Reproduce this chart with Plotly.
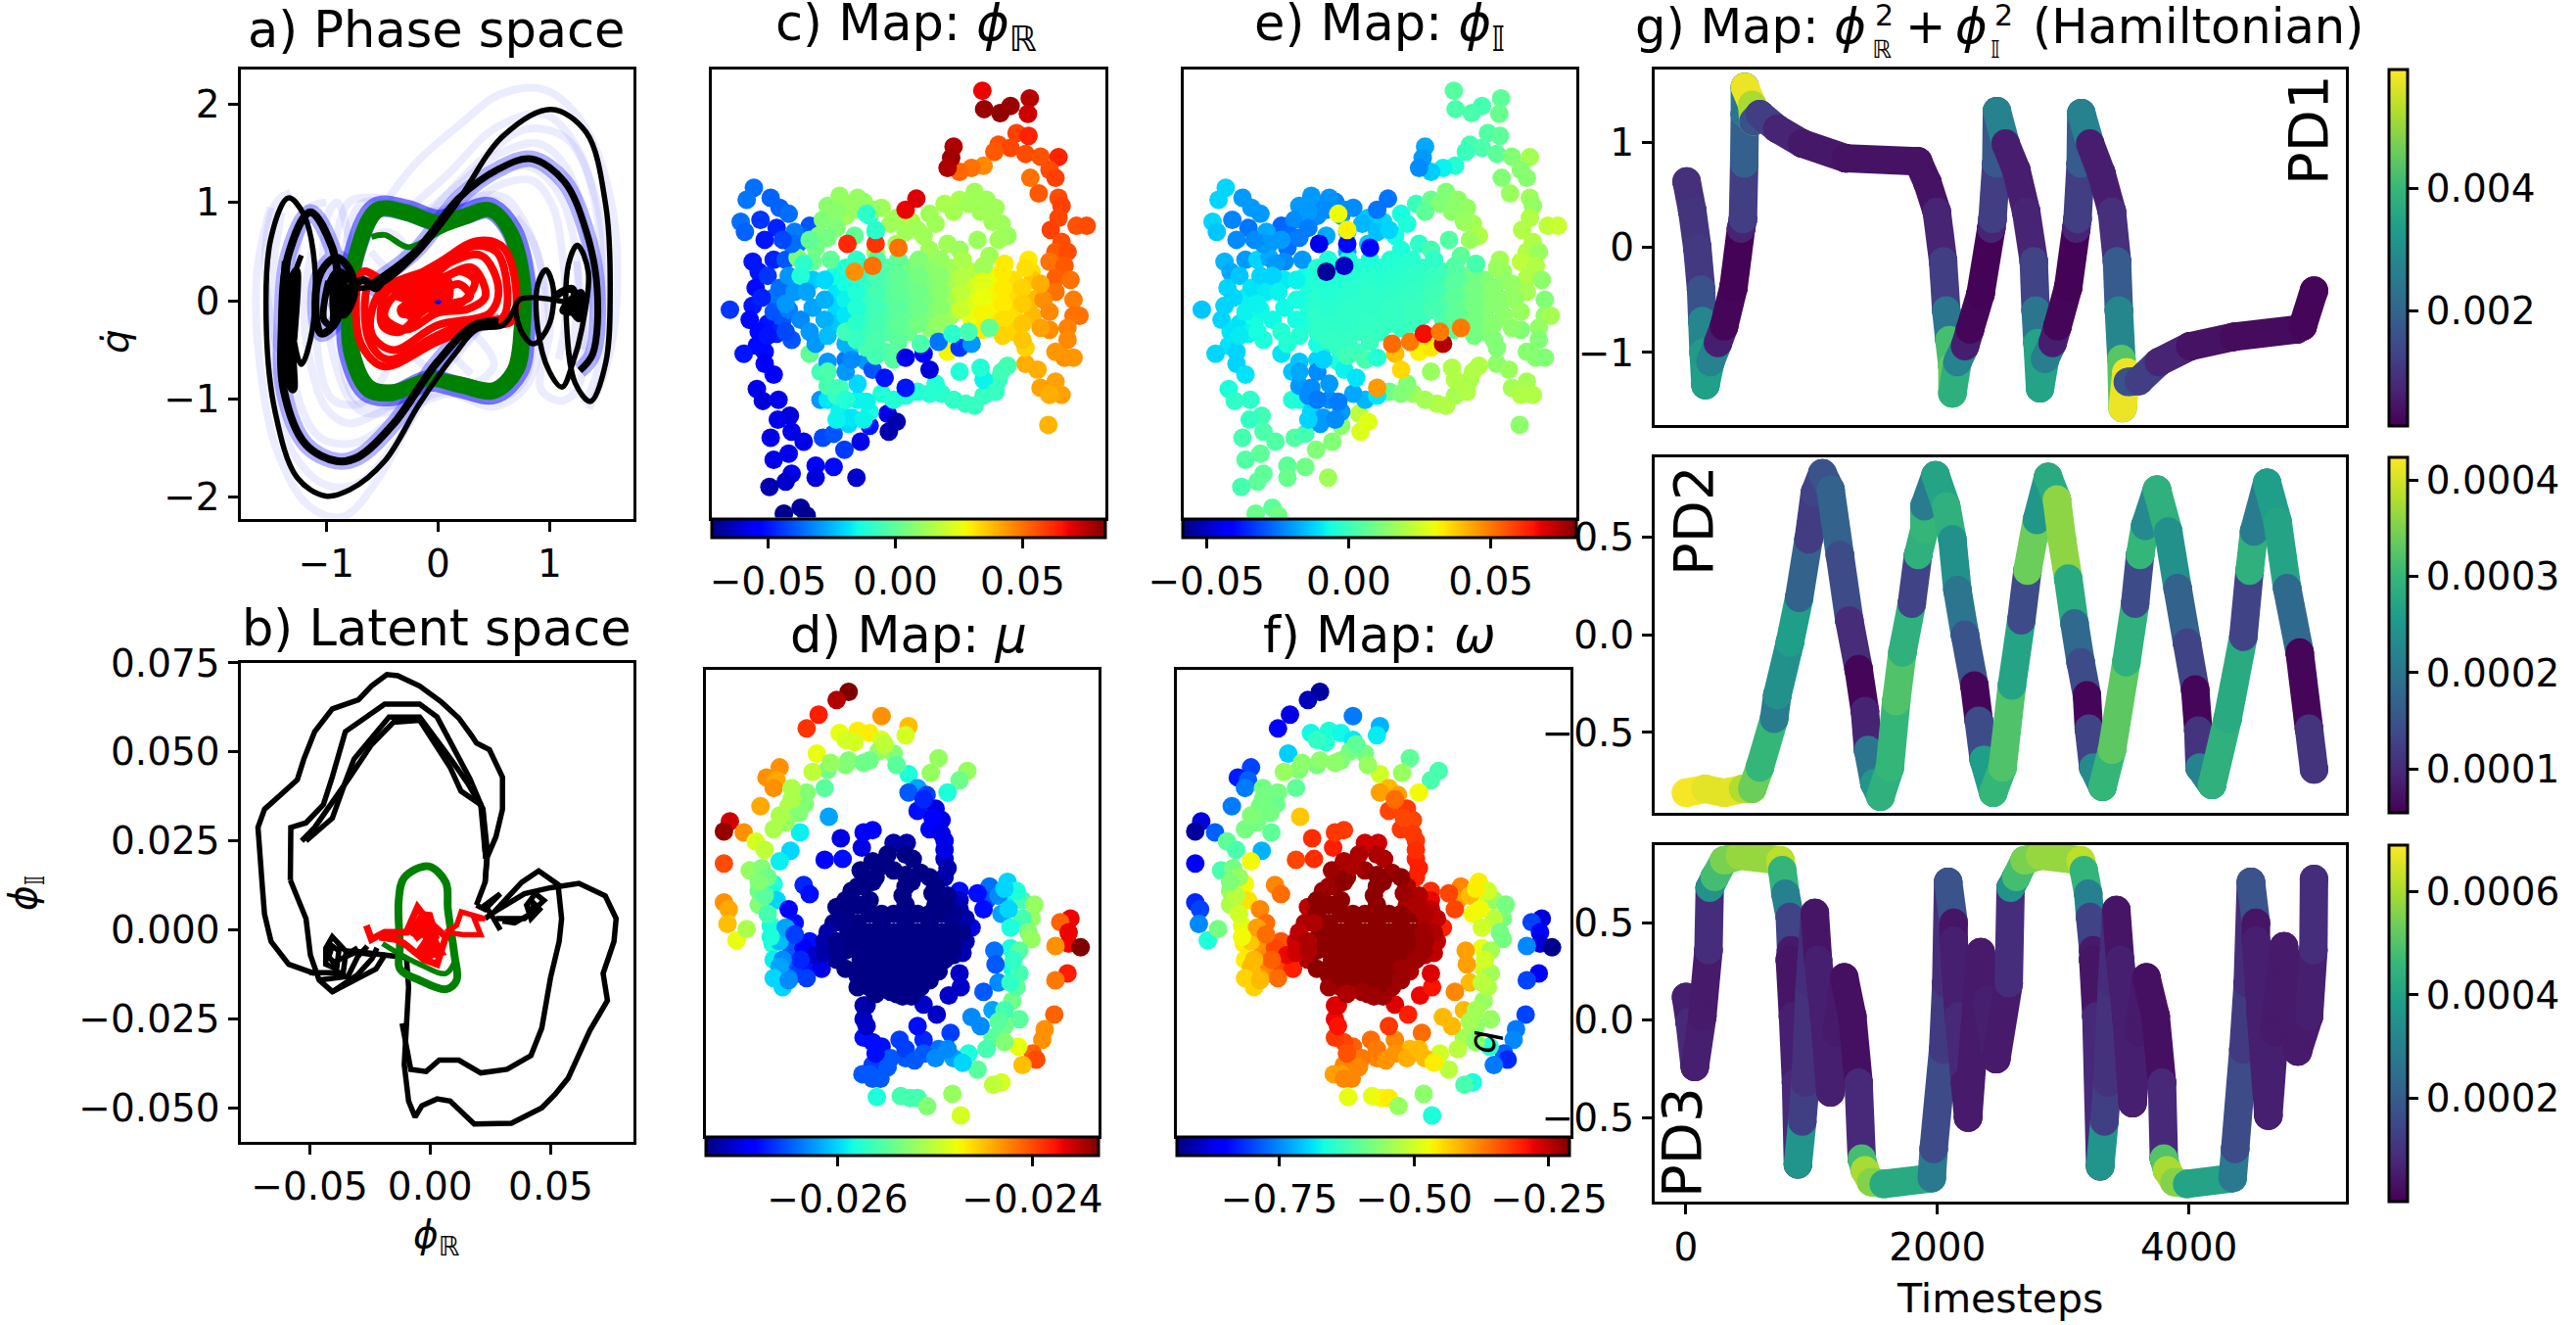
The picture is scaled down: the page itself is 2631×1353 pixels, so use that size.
import plotly.graph_objects as go
from plotly.colors import sample_colorscale

W, H = 2631, 1353
FONT = "DejaVu Sans"
FS = 39
TITLE_FS = 51

JET = [[0, "rgb(0,0,127)"], [.11, "rgb(0,0,255)"], [.125, "rgb(0,0,255)"], [.34, "rgb(0,219,255)"],
       [.35, "rgb(0,230,247)"], [.375, "rgb(20,255,226)"], [.64, "rgb(238,255,8)"], [.65, "rgb(247,245,0)"],
       [.66, "rgb(255,236,0)"], [.89, "rgb(255,19,0)"], [.91, "rgb(232,0,0)"], [1, "rgb(127,0,0)"]]

# ---------------- a) phase space -------------------
green_orbit = [(-.557,.942),(-.282,.921),(-.008,.817),(.227,.88),(.463,.942),(.659,.712),(.776,.209),(.776,-.293),
               (.718,-.712),(.502,-.942),(.188,-.88),(-.086,-.817),(-.4,-.963),(-.635,-.921),(-.792,-.545),(-.812,-.084),
               (-.753,.461),(-.557,.942)]
green_orbit2 = [(-.52,.9),(-.28,.86),(-.008,.76),(.23,.82),(.46,.9),(.62,.7),(.72,.2),(.72,-.3),(.66,-.7),(.5,-.88),
                (.19,-.82),(-.08,-.78),(-.4,-.9),(-.6,-.86),(-.74,-.53),(-.76,-.08),(-.71,.44),(-.52,.9)]
green_arm = [(-.596,.649),(-.478,.67),(-.263,.545),(.031,.712),(.227,.796)]
red_loop1 = [(-.675,.293),(-.4,.168),(-.008,.377),(.345,.607),(.58,.545),(.698,.126),(.659,-.209),(.384,-.251),
             (-.008,-.419),(-.486,-.67),(-.682,-.461),(-.733,-.168),(-.675,.293)]
red_loop2 = [(-.518,.084),(-.008,.335),(.384,.461),(.541,.126),(.463,-.126),(-.008,-.251),(-.4,-.503),(-.596,-.335),(-.518,.084)]
red_loop3 = [(-.4,.042),(-.008,.209),(.306,.335),(.424,.042),(.267,-.084),(-.008,-.126),(-.282,-.293),(-.478,-.168),(-.4,.042)]
red_loop4 = [(-.282,0),(-.008,.084),(.188,.168),(.286,.042),(.149,-.021),(-.047,-.042),(-.243,-.168),(-.282,0)]
red_loop5 = [(-.6,.2),(-.3,.14),(0,.3),(.3,.55),(.52,.5),(.62,.12),(.58,-.17),(.33,-.2),(-.02,-.36),(-.45,-.6),(-.62,-.4),(-.6,.2)]
red_loop6 = [(-.45,.1),(-.1,.16),(.1,.26),(.2,.3),(.33,.2),(.2,-.03),(-.1,-.08),(-.35,-.32),(-.5,-.25),(-.45,.1)]
red_fill = [(-.35,.08),(-.1,.14),(.05,.2),(.05,.0),(-.15,-.05),(-.3,-.1),(-.15,.02),(-.35,.08)]
black_a = [(-.714,.126),(-.518,.168),(-.204,.461),(.149,.963),(.58,1.675),(1.012,1.948),(1.325,1.717),(1.502,.963),(1.541,.126),
           (1.502,-.628),(1.365,-1.026),(1.227,-.838),(1.149,-.209),(1.169,.377),(1.247,.565),(1.345,.293),(1.286,-.293),
           (1.208,-.628),(1.11,-.88),(.992,-.712),(.894,-.293),(.894,.168),(.965,.314),(1.031,.126),(.992,-.251),(.855,-.44),
           (.737,-.293),(.718,0),(1.169,-.021)]
black_b = [(-.596,.168),(-.204,.503),(.188,1.047),(.541,1.34),(.835,1.445),(1.129,1.215),(1.325,.712),(1.424,.126),(1.384,-.545),(1.267,-.712)]
black_c = [(.698,-.042),(.58,-.251),(.345,-.293),(.149,-.545),(-.165,-1.047),(-.478,-1.634),(-.792,-1.927),(-1.008,-1.99),
           (-1.263,-1.801),(-1.459,-1.131),(-1.537,-.293),(-1.498,.628),(-1.341,1.047),(-1.204,.88),(-1.106,.377),(-1.125,-.293),
           (-1.224,-.649),(-1.302,-.293),(-1.294,.209),(-1.224,.461)]
black_d = [(.541,-.209),(.325,-.251),(-.008,-.628),(-.4,-1.257),(-.714,-1.592),(-.91,-1.634),(-1.184,-1.466),(-1.38,-.921),
           (-1.4,-.293),(-1.341,.461),(-1.145,.901),(-.949,.545),(-.89,.126),(-.91,-.209),(-1.047,-.335),(-1.098,-.042),
           (-1.047,.293),(-.91,.44),(-.773,.272),(-.792,0),(-.831,-.063),(-.91,-.042),(-.675,.209),(-.557,.126),(-.478,.251)]
black_patch_l = [(-1.36,.4),(-1.38,-.6),(-1.3,-.9),(-1.33,.1),(-1.27,.3),(-1.3,-.4)]
black_patch_l2 = [(-.98,.2),(-1.02,-.2),(-.95,-.25),(-.93,.2),(-.85,.25),(-.85,-.15),(-.78,-.05),(-.75,.15),(-.9,.3),(-1.0,.1)]
black_patch_r = [(1.05,.05),(1.2,.12),(1.22,-.1),(1.12,-.1),(1.28,.08),(1.26,-.18),(1.15,.02)]
haze_curves = [
 [(-.44,1.05),(-.2,1.4),(.2,1.8),(.55,2.1),(.95,2.15),(1.3,1.8),(1.55,1),(1.6,0),(1.5,-.7),(1.35,-1.1)],
 [(-.3,.9),(.1,1.3),(.5,1.75),(.95,1.9),(1.25,1.55),(1.42,.9),(1.46,.1),(1.38,-.6)],
 [(-.2,.8),(.2,1.2),(.55,1.5),(.9,1.6),(1.15,1.35),(1.3,.8),(1.35,.1),(1.3,-.5)],
 [(-.1,.8),(.25,1.1),(.6,1.35),(.85,1.35),(1.08,1.1),(1.22,.6),(1.25,0),(1.18,-.6)],
 [(0,.75),(.3,1.0),(.6,1.2),(.85,1.22),(1.03,.95),(1.12,.4),(1.14,-.2),(1.08,-.6)],
 [(-.1,.85),(.4,1.45),(.8,1.75),(1.15,1.65),(1.4,1.1),(1.5,.2),(1.42,-.75),(1.3,-1.05)],
 [(.45,-.2),(.1,-.6),(-.2,-1.1),(-.5,-1.75),(-.85,-2.2),(-1.15,-2.1),(-1.45,-1.5),(-1.6,-.6),(-1.62,.3),(-1.5,.95)],
 [(.4,-.25),(0,-.8),(-.35,-1.4),(-.7,-1.85),(-1.0,-1.88),(-1.3,-1.55),(-1.47,-.8),(-1.5,.1),(-1.4,.9)],
 [(.3,-.3),(-.1,-.8),(-.4,-1.2),(-.75,-1.45),(-1.05,-1.4),(-1.25,-1.0),(-1.3,-.3),(-1.25,.4)],
 [(.2,-.4),(-.2,-.9),(-.5,-1.12),(-.8,-1.25),(-1.0,-1.1),(-1.15,-.6),(-1.2,0),(-1.12,.55)],
 [(-.45,-.7),(-.7,-1.05),(-.95,-1.0),(-1.08,-.5),(-1.05,.1),(-.98,.9),(-.9,1.0),(-.78,.5)],
 [(.7,.85),(.85,.6),(.95,.2),(1.0,-.3),(.92,-.9),(1.1,-1.02),(1.25,-.9),(1.3,-.3),(1.24,.4)],
 [(.3,-.75),(.1,-.45),(.25,-.3),(.5,-.65),(.3,-.85),(.0,-.75),(-.2,-.55),(.05,-.4)],
 [(-.6,.5),(-.4,.3),(-.3,.55),(-.45,.7),(-.65,.6),(-.72,.2),(-.6,.0),(-.45,.2)],
 [(-1.0,1.0),(-1.15,.95),(-1.25,.6),(-1.3,.0),(-1.42,-.5),(-1.55,.4),(-1.45,1.0),(-1.32,1.1)],
 [(-.8,1.0),(-.6,1.05),(-.3,1.0),(0,.9),(.3,1.05),(.6,1.05),(.85,.6),(.95,.0),(.8,-.85),(.5,-1.08),(.1,-.95),(-.3,-1.1),(-.7,-1.12),(-.95,-.5),(-.95,.3),(-.8,1.0)],
 [(-.7,.98),(-.45,1.0),(-.1,.9),(.2,.98),(.55,1.0),(.8,.5),(.87,-.1),(.75,-.85),(.45,-1.02),(.1,-.92),(-.3,-1.05),(-.72,-1.02),(-.88,-.45),(-.86,.3),(-.7,.98)],
]
blue_center = [(-.02,.0),(0,-.02),(.02,0)]

# ---------------- b) latent space -------------------
latent_outer = [(-.0478,-.0122),(-.0586,-.0096),(-.0659,-.0032),(-.0686,.0045),(-.0695,.0122),(-.0704,.0186),(-.0713,.0288),(-.0686,.0339),
    (-.0623,.0378),(-.055,.0422),(-.0523,.048),(-.0478,.0557),(-.0405,.0621),(-.0297,.0646),(-.0243,.0685),(-.0179,.0717),(-.0134,.0714),
    (-.0043,.0685),(.0047,.064),(.0119,.0595),(.0174,.0544),(.0192,.0525),(.0246,.0506),(.03,.0429),(.03,.0339),(.0273,.0262),(.0237,.0205),(.0228,.0134),(.0192,.007)]
latent_mid1 = [(-.0579,.014),(-.0577,.0288),(-.0514,.0301),(-.0442,.0352),(-.0405,.043),(-.0351,.0557),(-.0188,.0634),(-.0043,.0634),
    (.0029,.0598),(.0101,.0509),(.0165,.0425),(.0219,.0339),(.0237,.0224),(.0228,.0134)]
latent_mid2 = [(-.0514,.0250),(-.0405,.0314),(-.0351,.0416),(-.0315,.048),(-.0170,.0598),(-.0043,.0598),(.0083,.0483),(.0156,.0412),(.0219,.0339),(.023,.02)]
latent_mid3 = [(-.0532,.025),(-.0478,.0288),(-.0333,.0429),(-.0243,.052),(-.0152,.0583),(-.0043,.0589),(.0083,.0457),(.0128,.0390),(.0210,.0352),(.0228,.022)]
latent_down = [(-.0579,.014),(-.0514,.0032),(-.0496,-.0070),(-.046,-.014),(-.0405,-.0173),(-.0224,-.0109),(-.0188,-.0070),(-.0098,-.0077)]
latent_fan1 = [(-.0405,-.0173),(-.0300,-.0125),(-.0240,-.0080),(-.0220,-.0050)]
latent_fan2 = [(-.0460,-.0140),(-.0340,-.0130),(-.0300,-.0075),(-.0260,-.0045)]
latent_fan3 = [(-.0500,-.0120),(-.0360,-.0120),(-.0350,-.0070),(-.0300,-.0050)]
latent_right_outer = [(-.0098,-.0077),(-.0089,-.016),(-.0107,-.0378),(-.0089,-.0480),(-.0062,-.0525),(-.0034,-.0493),(.0029,-.0474),(.0083,-.048),
    (.0183,-.0544),(.0337,-.0542),(.0463,-.0499),(.0518,-.0461),(.0572,-.0416),(.0617,-.0352),(.0662,-.0282),(.0735,-.0198),(.0717,-.0122),(.0762,-.0032),(.0771,.0032),(.0726,.0096),(.0617,.0131),(.0500,.0119),(.0391,.0102),(.0264,.005)]
latent_right_inner = [(-.0116,-.0262),(-.008,-.0391),(-.0016,-.0397),(.0038,-.0365),(.0119,-.0365),(.0210,-.0401),(.0319,-.0391),(.0418,-.0352),(.0463,-.0275),(.0499,-.0134),(.0535,-.0032),(.0545,.0032),(.0530,.0128),(.0450,.0166),(.0380,.0134),(.0264,.005),(.0228,.0032)]
latent_spiral_r = [(.0273,.0032),(.0391,.0032),(.0472,.0083),(.0436,.0102),(.0400,.0070),(.0418,.0032),(.0454,.0058),(.0430,.0075),(.0415,.0045),(.0350,.0020),(.0300,.0025)]
latent_spiral_l = [(-.0224,-.0070),(-.0351,-.0058),(-.0405,-.0019),(-.0432,-.0051),(-.0432,-.0096),(-.0387,-.0109),(-.0378,-.0058),(-.0405,-.0045),(-.0420,-.0075),(-.0400,-.0090),(-.0300,-.0060),(-.0188,-.0070)]
latent_cross = [(.0192,.0070),(.0228,.0058),(.0291,.0102),(.0228,.007),(.0264,.0032),(.0291,.0000)]
latent_green = [(-.0007,.0179),(.0065,.0134),(.0074,.0058),(.0101,-.007),(.011,-.0141),(.0065,-.0166),(-.0043,-.0141),(-.0125,-.0109),(-.0125,-.0045),(-.013,.0083),(-.0107,.0147),(-.0007,.0179)]
latent_green_in = [(.0101,-.009),(.0065,-.0122),(-.0043,-.0096),(-.0134,-.0064),(-.0197,-.0038)]
latent_red = [(-.0264,.0013),(-.0243,-.0026),(-.0188,-.0006),(-.0098,-.0006),(-.0052,.0064),(-.0016,.0032),(.0065,-.0019),(.0029,-.0096),(-.0025,-.0083),(-.0107,-.0038),(-.0143,-.0026),(-.0210,-.0020)]
latent_red2 = [(.0065,-.0006),(.0138,-.0013),(.021,-.0013),(.0183,.0032),(.0228,.0032),(.0129,.0051),(.011,.0013),(.0065,-.0006)]
latent_red_fill = [(-.0071,-.0019),(-.0016,.0045),(.0011,-.0019),(-.0043,-.007),(.0029,-.0058),(-.0025,.0006),(-.0071,-.0019)]

# ---------------- c/e) maps of phi_R, phi_I: (q, qdot position read on a hidden axis, phi_R, phi_I) -------------------
map_ce_edge = [
 (528,227,.068,.005),(531,273,.079,.003),(558,283,.08,.003),(575,265,.079,.002),(607,246,.075,.006),(604,285,.072,.008),
 (585,333,.058,.004),(605,340,.063,.006),(555,362,.055,.002),(575,370,.057,.003),(548,380,.054,0),(600,385,.056,.006),(625,392,.055,.012),(655,393,.063,.018),
 (530,415,.046,-.004),(510,420,.05,-.008),(490,430,.052,-.013),(480,367,.076,-.018),(476,395,.078,-.02),(470,420,.076,-.022),(608,445,.05,.012),(640,425,.056,.013),(650,445,.058,.013),
 (622,484,.054,.016),(655,495,.056,.017),(660,515,.058,.015),(655,545,.057,.02),(642,575,.058,.02),(685,565,.055,.022),(702,565,.056,.024),
 (660,605,.056,.02),(650,630,.054,.02),(670,630,.056,.016),(640,655,.05,.022),(665,665,.054,.02),(650,695,.053,.02),(675,700,.05,.014),(680,750,.048,.012),(650,730,.05,.018),
 (680,790,.05,.014),(690,790,.05,.018),(670,820,.047,.015),(640,825,.045,.012),(670,850,.046,.012),(665,895,.045,.013),(680,895,.044,.012),(650,880,.044,.013),(600,910,.04,.014),
 (620,925,.04,.016),(650,955,.042,.018),(625,970,.042,.018),(660,988,.042,.02),(640,988,.04,.02),(638,1063,.039,.014),
 (147,470,-.036,-.012),(135,500,-.035,-.012),(175,495,-.038,-.02),(190,520,-.038,-.02),(205,535,-.036,-.02),(125,555,-.036,-.012),(132,580,-.038,-.014),(158,550,-.045,-.023),
 (240,565,-.04,-.027),(185,570,-.048,-.025),(165,600,-.05,-.022),(215,580,-.034,-.018),(220,610,-.035,-.02),
 (145,655,-.05,-.016),(180,650,-.048,-.02),(155,680,-.05,-.018),(200,650,-.04,-.012),(150,720,-.052,-.012),(107,775,-.045,-.014),(145,765,-.05,-.012),(180,745,-.035,-.008),
 (140,800,-.052,-.012),(170,810,-.05,-.01),(155,830,-.052,-.01),(195,800,-.04,-.006),(185,835,-.048,-.008),(210,850,-.04,-.005),(152,865,-.052,-.01),(130,885,-.05,-.012),
 (165,880,-.052,-.012),(165,910,-.055,-.012),(180,937,-.055,-.01),(152,973,-.058,-.005),(162,1003,-.06,-.002),(188,1000,-.058,-.002),(207,1040,-.06,.001),(187,1050,-.058,-.001),
 (175,1095,-.058,.002),(210,1080,-.058,.003),(230,1105,-.058,.004),(262,1095,-.042,.004),(280,1085,-.04,.002),(205,1135,-.058,.006),(180,1150,-.058,.004),(250,1165,-.055,.006),
 (280,1168,-.052,.009),(298,1125,-.044,.012),(325,1105,-.058,.012),(318,1195,-.062,.017),(210,1185,-.058,.006),(250,1195,-.06,.008),(200,1205,-.062,.006),(173,1218,-.066,.002),
 (197,1285,-.07,.008),(225,1270,-.068,.006),(235,1290,-.07,.009),(340,1065,-.05,.014),(370,1035,-.058,.022),(372,1080,-.066,.027),(385,1055,-.066,.028),
 (258,1000,-.03,-.004),(300,900,-.035,-.012),(305,1060,-.02,-.02),
]
map_ce_bands = [
 (270,1000,-.018,-.005),(290,1030,-.016,-.012),(310,1045,-.018,-.02),(340,1030,-.014,-.02),(380,1000,-.012,-.016),(420,980,-.012,.008),(460,985,-.01,.016),(500,1010,-.008,.02),
 (530,990,-.008,.018),(555,950,-.008,.018),(570,915,-.005,.02),(530,950,-.016,.02),(490,930,-.012,.016),(360,985,-.012,-.018),(320,1000,-.016,-.022),(450,960,-.012,.012),
 (240,885,-.0,-.01),(258,930,-.006,-.014),(270,965,-.005,-.02),(285,990,-.008,-.022),(270,905,-.03,-.014),(335,905,-.03,-.005),(345,925,-.04,-.008),(365,945,-.05,-.01),
 (270,515,.008,-.02),(300,510,.01,-.022),(330,505,.01,-.023),(360,520,.012,-.022),(385,545,.012,-.014),(410,555,.014,-.012),(440,535,.012,-.006),(465,510,.014,.0),(490,500,.014,.008),
 (515,480,.012,.012),(535,500,.012,.014),(550,520,.012,.015),(560,560,.012,.018),(570,590,.011,.02),(262,550,.006,-.022),(255,590,.006,-.026),(250,620,.003,-.026),(220,645,.005,-.018),
 (245,655,.002,-.022),(290,490,.01,-.02),(320,495,.01,-.021),(300,540,.012,-.022),(340,540,-.012,-.02),(400,580,.012,-.015),(430,590,.012,-.006),(470,610,.012,-.002),(520,600,.011,.004),
 (350,630,.012,-.018),(315,590,.0,-.018),(350,580,-.012,-.012),(540,640,.012,.006),(565,660,.03,.012),(605,650,.03,.018),(610,680,.032,.016),
 (285,530,.008,-.02),(315,525,.01,-.022),(345,525,.01,-.022),(375,560,.012,-.016),(420,575,.012,-.012),(450,560,.012,-.005),(480,530,.013,.006),(505,510,.012,.012),(525,530,.012,.014),(545,555,.012,.016),(555,600,.012,.016),(285,570,.006,-.024),(270,595,.004,-.024),(490,625,.011,.002),(440,625,.012,-.005),(385,610,.012,-.014),
 (290,970,-.006,-.022),(270,930,-.004,-.018),(300,1000,-.012,-.024),(335,1005,-.016,-.024),(400,990,-.012,-.01),(440,985,-.011,.012),(480,1000,-.009,.018),(515,1015,-.008,.02),(550,980,-.008,.02),(560,930,-.006,.02),(525,920,-.012,.02),(320,960,-.02,-.02),(300,930,-.03,-.022),(310,870,-.022,-.008),(330,1050,-.016,-.022),(285,1050,-.016,-.012),
 (170,690,-.045,-.014),(190,720,-.036,-.01),(205,690,-.03,-.012),(160,745,-.048,-.012),(215,730,-.03,-.009),(180,780,-.04,-.008),(205,775,-.034,-.007),(170,840,-.05,-.009),(200,830,-.042,-.006),(245,700,-.022,-.009),(245,770,-.028,-.007),(285,730,-.018,-.005),(285,770,-.02,-.004),(285,810,-.022,-.004),(250,860,-.03,-.004),(280,690,-.014,-.006),(230,660,-.01,-.02),(275,650,.0,-.02),(210,610,-.036,-.02),(195,600,-.042,-.022),(240,600,.0,-.02),
]
map_ce_core = [
 (200,760,-.03,-.008),(225,690,-.012,-.012),(235,730,-.028,-.008),(225,800,-.032,-.007),(240,830,-.03,-.004),(265,700,-.02,-.008),(265,750,-.026,-.006),(265,800,-.026,-.006),(270,840,-.024,-.004),(300,860,-.026,-.006),(310,900,-.032,-.012),
 (300,670,-.012,-.004),(300,710,-.014,-.004),(300,750,-.016,-.003),(300,790,-.018,-.002),(300,830,-.006,-.002),
 (335,670,-.006,-.004),(335,710,-.008,-.004),(335,750,-.008,-.003),(335,790,-.008,-.002),(335,830,-.006,-.002),(335,870,-.004,-.001),
 (370,670,-.002,-.004),(370,710,-.002,-.003),(370,750,-.002,-.002),(370,790,-.003,-.002),(370,830,-.002,-.001),(365,880,-.003,.0),
 (405,670,.004,-.004),(405,710,.002,-.003),(405,750,.001,-.002),(405,790,.001,-.001),(405,830,.002,-.001),
 (440,670,.008,-.003),(440,710,.006,-.002),(440,750,.005,-.001),(440,790,.006,-.001),(440,820,.008,-.001),
 (475,670,.012,-.002),(475,710,.012,-.001),(475,750,.012,0),(475,790,.012,0),
 (510,680,.016,.001),(510,720,.022,.002),(510,760,.024,.003),(510,800,.026,.003),
 (545,690,.026,.006),(545,730,.028,.008),(545,770,.028,.008),(545,810,.03,.007),(574,800,.012,.016),
 (580,700,.032,.012),(580,740,.032,.012),(580,780,.032,.012),(580,830,.034,.012),(600,870,.034,.012),
 (612,700,.036,.014),(612,750,.038,.013),(612,790,.038,.014),(630,750,.045,.015),
 (318,650,-.01,-.005),(352,650,-.004,-.005),(388,650,.0,-.005),(422,650,.006,-.004),(458,650,.01,-.003),(495,650,.014,-.002),
 (318,690,-.01,-.005),(352,690,-.005,-.004),(388,690,0,-.003),(422,690,.004,-.003),(458,690,.008,-.002),(492,695,.016,.0),
 (318,730,-.012,-.004),(352,730,-.005,-.003),(388,730,0,-.002),(422,730,.003,-.002),(458,730,.008,-.001),(492,735,.018,.001),
 (318,770,-.012,-.003),(352,770,-.006,-.002),(388,770,-.001,-.002),(422,770,.003,-.001),(458,770,.008,0),(492,775,.02,.002),
 (318,810,-.01,-.002),(352,810,-.005,-.002),(388,810,0,-.001),(422,810,.004,-.001),(458,810,.01,0),
 (318,850,-.008,-.001),(352,850,-.004,-.001),(388,855,-.001,0),(350,890,-.005,.001),(380,900,-.002,.002),
 (530,665,.012,.004),(528,705,.024,.005),(528,745,.026,.006),(528,785,.028,.006),(528,825,.03,.006),(562,680,.03,.009),(562,720,.03,.01),(562,760,.03,.01),(562,800,.032,.01),(562,840,.034,.01),(595,720,.034,.013),(595,760,.035,.013),(595,810,.036,.013),(595,850,.036,.012),(625,710,.04,.015),(640,780,.046,.016),(625,820,.042,.014),(600,670,.032,.016),
]
map_ce_inner = [
 (303,610,.062,-.045),(350,610,.06,-.04),(388,620,.05,-.042),(345,665,.05,-.05),(315,680,.045,-.055),(335,535,-.01,.03),(350,575,-.01,.032),(400,525,.068,-.025),(418,497,.07,-.025),
 (400,895,-.058,-.004),(430,885,-.056,.04),(440,925,-.06,.036),(470,880,.028,.032),(490,870,-.045,.034),(455,855,-.035,.05),(510,860,-.03,.074),(478,835,-.01,.066),(505,830,-.005,.05),
 (425,860,-.004,.052),(400,970,-.05,.045),(540,820,.0,.05),(565,660,.03,.002),
]
map_ce = map_ce_edge + map_ce_bands + map_ce_core + map_ce_inner
ce_q, ce_qdot, ce_phi_r, ce_phi_i = zip(*map_ce)

# ---------------- d/f) maps of mu, omega -------------------
map_df_outer = [
 (305,185,-.0233,-.92),(285,203,-.0235,-.9),(255,235,-.0238,-.875),(235,265,-.0239,-.86),(360,238,-.0243,-.76),(405,260,-.0245,-.72),(400,280,-.0249,-.68),
 (190,350,-.0243,-.8),(168,372,-.0243,-.83),(185,378,-.0244,-.78),(180,395,-.0243,-.76),(158,435,-.0244,-.76),(107,468,-.0236,-.88),(97,490,-.0234,-.92),(130,492,-.0243,-.78),
 (97,560,-.024,-.86),(97,645,-.0243,-.82),(105,660,-.0244,-.8),(103,692,-.0245,-.75),(118,728,-.0248,-.66),(135,703,-.0251,-.58),
 (675,680,-.0237,-.88),(658,688,-.0241,-.8),(672,710,-.0237,-.86),(672,735,-.0237,-.88),(692,743,-.0233,-.93),(650,740,-.0243,-.75),(670,800,-.0238,-.86),(650,815,-.0242,-.8),
 (648,890,-.0241,-.8),(632,922,-.0243,-.76),(628,945,-.0243,-.75),(612,975,-.0241,-.78),(618,988,-.024,-.82),(595,1000,-.0245,-.76),(588,960,-.0248,-.65),(560,1038,-.0249,-.66),(546,1043,-.025,-.62),
 (352,1070,-.0258,-.48),(392,1068,-.0256,-.48),(408,1072,-.0256,-.47),(420,1072,-.0256,-.46),(436,1090,-.0253,-.55),(478,1063,-.0252,-.56),(492,1110,-.0249,-.66),
 (252,320,-.0248,-.7),(455,330,-.0252,-.6),(503,358,-.0252,-.62),(490,378,-.0254,-.62),(442,362,-.0252,-.55),(272,458,-.0262,-.43),(224,492,-.0259,-.6),(208,532,-.026,-.72),
]
map_df_ring = [
 (290,275,-.0248,-.67),(320,270,-.0247,-.66),(340,275,-.0247,-.67),(360,290,-.0249,-.68),(315,295,-.0249,-.65),(380,320,-.0253,-.58),(355,315,-.0252,-.58),(340,335,-.0254,-.57),(300,345,-.0253,-.58),
 (270,355,-.0254,-.57),(245,360,-.025,-.55),(405,365,-.0258,-.5),(420,395,-.0262,-.42),(405,405,-.0265,-.4),(435,410,-.0266,-.4),(470,405,-.0258,-.47),
 (265,395,-.0255,-.6),(235,405,-.0253,-.58),(210,395,-.0251,-.58),(232,430,-.0253,-.59),(205,435,-.0251,-.58),(222,450,-.0253,-.58),(200,470,-.0252,-.58),(180,485,-.0251,-.58),(150,512,-.0249,-.6),(165,530,-.025,-.62),(140,575,-.0252,-.62),(160,570,-.0253,-.58),
 (190,555,-.0259,-.47),(180,605,-.0258,-.47),(155,620,-.0254,-.55),(155,650,-.0253,-.53),(185,640,-.026,-.45),(175,695,-.0258,-.48),(178,735,-.0258,-.46),(180,770,-.0259,-.46),(190,800,-.0262,-.42),(195,830,-.026,-.44),
 (420,445,-.0268,-.33),(450,440,-.027,-.32),(440,485,-.0269,-.32),(460,465,-.027,-.33),(465,510,-.0269,-.32),(465,550,-.0271,-.3),(465,590,-.0272,-.3),(490,620,-.0268,-.31),(540,610,-.0264,-.38),(570,600,-.026,-.46),(535,640,-.0265,-.4),(575,640,-.0259,-.5),(560,670,-.0262,-.47),
 (595,640,-.0256,-.55),(615,650,-.0252,-.58),(610,680,-.0252,-.58),(595,680,-.0256,-.52),(575,700,-.0258,-.5),(605,710,-.0253,-.58),(610,725,-.0252,-.58),(575,745,-.0258,-.48),(578,790,-.0258,-.5),(590,800,-.0256,-.54),
 (548,750,-.0264,-.4),(550,780,-.0265,-.4),(555,820,-.0263,-.42),(530,840,-.0265,-.38),(545,880,-.0262,-.42),(578,860,-.0254,-.55),(590,900,-.0255,-.55),(565,915,-.0254,-.56),(545,940,-.0255,-.54),(535,965,-.0256,-.52),(565,950,-.0253,-.56),(505,975,-.0258,-.5),(520,1010,-.0255,-.52),
 (510,895,-.0263,-.42),(525,915,-.0263,-.42),(475,930,-.0266,-.36),(480,985,-.0262,-.42),(455,965,-.0264,-.42),(430,945,-.0267,-.38),(430,975,-.0265,-.39),(400,985,-.0265,-.38),(390,945,-.0266,-.36),(420,915,-.0268,-.32),
 (360,960,-.0268,-.35),(345,950,-.0268,-.33),(375,985,-.0265,-.37),(330,940,-.0268,-.32),(330,900,-.0271,-.28),(345,1000,-.0266,-.38),(328,1020,-.0265,-.4),(358,1030,-.0265,-.38),
 (335,870,-.0272,-.27),(472,848,-.0271,-.28),(492,830,-.0271,-.29),(490,800,-.0271,-.27),(430,868,-.0271,-.27),(452,890,-.0271,-.3),
 (292,505,-.027,-.31),(327,525,-.027,-.3),(330,492,-.0269,-.32),(345,487,-.0269,-.32),(265,552,-.0269,-.33),(295,550,-.0268,-.31),(230,607,-.0267,-.38),(240,627,-.0268,-.36),(205,660,-.0269,-.38),(215,690,-.0268,-.36),
 (205,735,-.0265,-.39),(210,770,-.0265,-.38),(220,800,-.0266,-.38),(240,730,-.0268,-.34),(240,780,-.0268,-.33),(260,790,-.027,-.3),
 (230,745,-.0269,-.33),(250,760,-.0271,-.28),(225,770,-.0267,-.35),(235,810,-.0266,-.36),(205,810,-.0264,-.4),(195,770,-.0263,-.42),(190,730,-.0261,-.43),(200,700,-.0262,-.4),(215,715,-.0266,-.36),
 (510,700,-.027,-.3),(530,660,-.0268,-.33),(555,630,-.0263,-.42),(520,625,-.0268,-.33),(490,640,-.0271,-.28),
 (572,660,-.026,-.47),(585,620,-.0258,-.5),(565,615,-.026,-.46),(590,750,-.0255,-.54),(585,830,-.0255,-.53),(565,880,-.0256,-.54),(555,905,-.0255,-.54),(580,770,-.0257,-.5),(575,820,-.0257,-.52),
 (170,670,-.0256,-.5),(165,630,-.0255,-.52),(170,590,-.0254,-.55),(175,720,-.0258,-.47),(190,785,-.0262,-.42),(180,810,-.026,-.44),(205,815,-.0263,-.42),(155,600,-.0253,-.57),
 (350,975,-.0268,-.34),(370,1005,-.0265,-.38),(400,965,-.0266,-.37),(415,990,-.0265,-.39),(450,985,-.0263,-.41),(470,965,-.0263,-.42),(495,995,-.026,-.46),(340,1020,-.0265,-.4),(345,1030,-.0265,-.38),(330,870,-.0272,-.27),(335,915,-.0271,-.29),
 (305,335,-.0253,-.56),(330,340,-.0254,-.56),(275,340,-.0252,-.56),(385,345,-.0255,-.55),(365,300,-.025,-.6),(300,290,-.0249,-.64),(460,495,-.027,-.32),(465,530,-.027,-.31),(470,570,-.0272,-.3),(430,420,-.0267,-.36),(445,460,-.0269,-.33),(210,420,-.0251,-.58),(190,455,-.0251,-.57),
]
map_df_core = [
 (380,515,-.0272,-.26),(402,515,-.0272,-.26),(370,540,-.02733,-.24),(345,555,-.02733,-.24),(412,550,-.02733,-.24),(325,575,-.02733,-.23),(380,575,-.02733,-.23),(425,580,-.02733,-.23),(310,620,-.02733,-.23),
 (330,610,-.02733,-.22),(400,610,-.02733,-.22),(450,610,-.02733,-.24),(320,650,-.02733,-.22),(400,650,-.02733,-.22),(450,650,-.02733,-.24),(490,660,-.0272,-.25),(285,655,-.02733,-.25),
 (280,690,-.0273,-.24),(320,690,-.02733,-.22),(360,690,-.02733,-.22),(400,690,-.02733,-.22),(440,690,-.02733,-.22),(480,690,-.0273,-.24),
 (265,730,-.0272,-.26),(300,730,-.02733,-.22),(340,730,-.02733,-.22),(380,730,-.02733,-.22),(420,730,-.02733,-.22),(460,730,-.02733,-.22),(500,730,-.0272,-.25),
 (285,770,-.0273,-.24),(325,770,-.02733,-.22),(365,770,-.02733,-.22),(405,770,-.02733,-.22),(445,770,-.02733,-.22),(480,760,-.0273,-.24),
 (320,805,-.02733,-.22),(360,810,-.02733,-.22),(400,810,-.02733,-.22),(425,830,-.02733,-.23),(455,795,-.02733,-.24),(340,830,-.02733,-.23),(385,845,-.02733,-.23),(410,850,-.02733,-.23),
 (350,590,-.02733,-.22),(400,585,-.02733,-.22),(440,590,-.02733,-.22),(300,640,-.02733,-.22),(340,640,-.02733,-.22),(470,630,-.0273,-.24),
 (300,670,-.02733,-.22),(340,670,-.02733,-.22),(380,670,-.02733,-.22),(420,670,-.02733,-.22),(460,670,-.02733,-.22),(500,680,-.0272,-.25),
 (270,710,-.0272,-.25),(305,710,-.02733,-.22),(340,710,-.02733,-.22),(380,710,-.02733,-.22),(420,710,-.02733,-.22),(460,710,-.02733,-.22),(495,710,-.0273,-.24),
 (265,755,-.0272,-.26),(300,750,-.02733,-.22),(340,750,-.02733,-.22),(380,750,-.02733,-.22),(420,750,-.02733,-.22),(460,750,-.02733,-.22),(495,755,-.0272,-.25),
 (300,790,-.02733,-.22),(340,790,-.02733,-.22),(380,790,-.02733,-.22),(420,790,-.02733,-.22),(360,830,-.02733,-.22),(400,830,-.02733,-.22),(320,830,-.02733,-.23),
 (360,670,-.02733,-.22),(400,670,-.02733,-.22),(440,670,-.02733,-.22),(480,670,-.0273,-.24),(320,710,-.02733,-.22),(360,710,-.02733,-.22),(400,710,-.02733,-.22),(440,710,-.02733,-.22),(478,710,-.02733,-.23),
 (285,730,-.0273,-.24),(320,730,-.02733,-.22),(360,730,-.02733,-.22),(400,730,-.02733,-.22),(440,730,-.02733,-.22),(480,730,-.02733,-.23),
 (320,750,-.02733,-.22),(360,750,-.02733,-.22),(400,750,-.02733,-.22),(440,750,-.02733,-.22),(478,750,-.02733,-.23),(285,750,-.0273,-.24),
 (345,770,-.02733,-.22),(385,770,-.02733,-.22),(425,770,-.02733,-.22),(465,770,-.02733,-.23),(320,790,-.02733,-.22),(360,790,-.02733,-.22),(400,790,-.02733,-.22),(440,790,-.02733,-.23),
 (340,810,-.02733,-.22),(380,810,-.02733,-.22),(420,810,-.02733,-.22),(440,815,-.02733,-.23),(375,840,-.02733,-.23),(395,850,-.02733,-.23),(350,845,-.02733,-.24),
 (320,610,-.02733,-.23),(310,640,-.02733,-.22),(395,630,-.02733,-.22),(410,600,-.02733,-.22),(345,600,-.02733,-.22),(400,540,-.02733,-.24),(360,565,-.02733,-.24),(445,625,-.02733,-.23),(465,650,-.02733,-.24),(310,690,-.02733,-.22),(295,690,-.0273,-.24),
]
map_df = map_df_outer + map_df_ring + map_df_core
df_q, df_qdot, df_mu, df_omega = zip(*map_df)

# ---------------- g) timeseries: (timestep, coordinate, phi_R^2+phi_I^2) -------------------
pd1 = [(5,.63,.0008),(50,.35,.0009),(90,0,.001),(120,-.4,.0011),(130,-.7,.0016),(140,-1.0,.0028),(155,-1.31,.0033),
 (194,-1.09,.0034),(254,-.91,.0027),(303,-.75,.0006),(378,-.38,.0002),(438,.18,.00015),(453,.27,.0007),(463,.8,.0012),(468,1.27,.0019),(468,1.53,.0024),
 (527,1.36,.0058),(535,1.2,.0052),(587,1.27,.0016),(726,1.13,.0012),(925,.99,.0007),(1274,.85,.0005),(1846,.82,.0004),(1920,.62,.0004),(1995,.34,.0004),
 (2045,-.13,.0007),(2070,-.6,.0012),(2095,-.88,.0024),(2119,-1.13,.0042),(2119,-1.39,.0045),(2159,-1.09,.0038),(2219,-.94,.0027),(2259,-.78,.0006),(2343,-.44,.0002),
 (2428,.18,.00015),(2438,.27,.0007),(2468,.8,.0012),(2473,1.3,.0017),(2542,.99,.0027),(2627,.74,.0006),(2706,.34,.0006),(2766,-.13,.0007),(2781,-.6,.0013),(2796,-.91,.0024),(2816,-1.34,.0035),
 (2856,-1.06,.0035),(2916,-.91,.0026),(2955,-.75,.0006),(3040,-.38,.0002),(3104,.18,.00015),(3114,.27,.0007),(3139,.8,.0012),(3144,1.28,.0018),(3214,.99,.0027),(3303,.71,.0006),(3388,.34,.0006),
 (3428,-.13,.0009),(3443,-.6,.0018),(3463,-1.06,.0028),(3473,-1.53,.0044),(3503,-1.19,.0058),(3513,-1.28,.0058),(3602,-1.27,.0016),(3761,-1.09,.0012),(4010,-.94,.0007),(4358,-.85,.0004),(4856,-.78,.0003),(4905,-.75,.0003),(4995,-.41,.0002)]
pd2 = [(0,-.81,.00041),(154,-.79,.00042),(303,-.81,.00041),(453,-.79,.00041),(527,-.79,.00038),(587,-.68,.00034),(701,-.43,.0003),(726,-.31,.00021),(826,-.04,.00024),(900,.19,.00026),(975,.49,.00017),(1025,.73,.00012),(1085,.83,.00013),
 (1150,.745,.00015),(1224,.41,.00017),(1299,.075,.00014),(1373,-.175,.0001),(1423,-.39,.00006),(1448,-.59,.00009),(1498,-.76,.0002),(1547,-.83,.00025),(1622,-.68,.00029),(1672,-.34,.0003),(1721,-.09,.00032),(1796,.16,.00029),(1846,.41,.00013),(1896,.54,.00029),(1896,.66,.0003),(1985,.82,.00021),
 (2070,.66,.00027),(2119,.49,.00029),(2159,.23,.00024),(2219,0,.0002),(2294,-.26,.00015),(2329,-.44,.00006),(2368,-.64,.00014),(2443,-.81,.00026),(2518,-.68,.0003),(2592,-.26,.00032),(2667,.075,.00027),(2716,.33,.00014),(2791,.59,.00034),(2880,.81,.00025),
 (2950,.695,.00028),(2990,.49,.00036),(3040,.29,.00036),(3090,.06,.00028),(3139,-.14,.00018),(3189,-.31,.00014),(3204,-.48,.00006),(3239,-.68,.00013),(3313,-.78,.00023),(3388,-.59,.0003),(3502,-.14,.00033),(3572,.16,.00029),(3612,.41,.00014),(3652,.56,.0003),(3746,.745,.00023),
 (3836,.53,.00029),(3910,.24,.00024),(3985,-.04,.00017),(4050,-.28,.00013),(4075,-.49,.00006),(4085,-.68,.00011),(4184,-.77,.00022),(4308,-.43,.00029),(4433,-.01,.00028),(4483,.33,.00013),(4518,.53,.00029),(4622,.78,.00021),(4706,.58,.00026),(4781,.24,.00027),(4881,-.09,.00018),(4955,-.48,.00006),(4995,-.69,.00011)]
pd3 = [(0,.12,.00006),(30,-.01,.00006),(70,-.24,.00008),(130,.02,.00006),(179,.36,.00005),(189,.68,.00009),(229,.735,.00035),(303,.82,.00048),(428,.845,.00055),(751,.82,.00058),(766,.77,.00062),(791,.65,.00045),(826,.53,.0003),(836,.36,.00014),(826,.31,.00005),(851,.02,.00004),(875,-.32,.00006),(890,-.74,.00008),
 (925,-.52,.00036),(950,-.32,.00013),(985,.19,.0001),(1025,.55,.00009),(1050,.31,.00004),(1100,.02,.00006),(1149,-.37,.00006),(1199,-.06,.00006),(1259,.22,.00005),(1323,.02,.00003),(1373,-.32,.00003),(1398,-.71,.00008),(1423,-.77,.00048),(1473,-.83,.0006),(1572,-.84,.00056),(1955,-.81,.00042),(1970,-.66,.00028),(2045,-.15,.00016),(2070,.19,.00012),(2085,.71,.00009),
 (2129,.5,.00018),(2129,.41,.00004),(2169,.02,.00006),(2219,-.32,.00008),(2244,-.5,.00005),(2294,-.06,.00005),(2344,.35,.00005),(2393,.105,.00005),(2468,-.2,.00006),(2567,.19,.00005),(2582,.68,.00009),
 (2627,.735,.00035),(2692,.82,.00048),(2816,.845,.00055),(3139,.82,.00058),(3164,.77,.00062),(3199,.65,.00045),(3214,.53,.0003),(3239,.36,.00014),(3239,.31,.00005),(3264,.02,.00004),(3294,-.75,.00008),(3328,-.52,.00036),(3353,-.32,.00013),(3388,.19,.0001),(3423,.565,.00009),(3453,.31,.00004),(3502,.02,.00006),(3552,-.425,.00006),(3602,-.06,.00006),(3662,.22,.00005),(3736,.02,.00003),(3786,-.32,.00003),(3801,-.71,.00008),(3826,-.77,.0005),(3885,-.83,.0006),(3985,-.84,.00056),(4348,-.81,.0004),(4368,-.66,.00028),(4433,-.15,.00016),(4468,.19,.00012),(4493,.71,.00009),
 (4533,.5,.00018),(4533,.41,.00004),(4573,.02,.00006),(4632,-.49,.00006),(4682,-.06,.00006),(4756,.38,.00005),(4866,-.16,.00005),(4955,.02,.00005),(4990,.36,.00006),(4995,.725,.00009)]

# axes ------------------------------------------------------------------
fig = go.Figure()
def X(px): return px / W
def Y(px): return 1 - px / H

LINE = dict(showline=True, linecolor="black", linewidth=3, mirror=True, showgrid=False, zeroline=False,
            tickfont=dict(family=FONT, size=FS, color="black"), ticklen=10, tickwidth=2.5, tickcolor="black")
def axes(n, box, xr, yr, xticks=None, yticks=None, xfmt=None, yfmt=None):
    l, r, t, b = box
    suffix = "" if n == 1 else str(n)
    xa = dict(LINE, domain=[X(l), X(r)], range=xr, anchor="y" + suffix)
    ya = dict(LINE, domain=[Y(b), Y(t)], range=yr, anchor="x" + suffix)
    if xticks:
        xa.update(tickmode="array", tickvals=xticks, ticks="outside", tickformat=xfmt)
    else:
        xa.update(showticklabels=False, ticks="")
    if yticks:
        ya.update(tickmode="array", tickvals=yticks, ticks="outside", tickformat=yfmt)
    else:
        ya.update(showticklabels=False, ticks="")
    fig.update_layout({"xaxis" + suffix: xa, "yaxis" + suffix: ya})
    return dict(xaxis="x" + suffix, yaxis="y" + suffix)

A = axes(1, (245.5, 647.3, 70.7, 529.5), [-1.77, 1.752], [-2.22, 2.358], [-1, 0, 1], [-2, -1, 0, 1, 2], "d", "d")
B = axes(2, (245.5, 647.3, 676.5, 1165.6), [-.0786, .0844], [-.05934, .0751], [-.05, 0, .05], [-.05, -.025, 0, .025, .05, .075], ".2f", ".3f")
C = axes(3, (726.5, 1128.9, 71.4, 528.6), [76, 733], [1295, 175])
E = axes(4, (1208.5, 1610.2, 71.4, 528.6), [76, 733], [1295, 175])
D = axes(5, (721, 1122.1, 684, 1160), [67, 722], [1155, 137])
F = axes(6, (1202.4, 1603.5, 684, 1160), [67, 722], [1155, 137])
G1 = axes(7, (1690, 2396.3, 70.7, 434.3), [-249, 5251], [-1.693, 1.698], None, [-1, 0, 1], None, "d")
G2 = axes(8, (1690, 2396.3, 466.7, 830), [-249, 5251], [-.9126, .9126], None, [-.5, 0, .5], None, ".1f")
G3 = axes(9, (1690, 2396.3, 862.7, 1226.7), [-249, 5251], [-.929, .9], [0, 2000, 4000], [-.5, 0, .5], "d", ".1f")

# phase space -----------------------------------------------------------
def curve(pts, ax, color, width, spline=True):
    x, y = zip(*pts)
    fig.add_trace(go.Scatter(x=x, y=y, mode="lines", showlegend=False, hoverinfo="skip",
                             line=dict(color=color, width=width, shape="spline" if spline else "linear", smoothing=1.0), **ax))

for c in haze_curves:
    curve(c, A, "rgba(0,0,255,0.075)", 8)
for c in (black_b, black_d):
    curve(c, A, "rgba(0,0,255,0.3)", 17)
curve(green_orbit, A, "rgba(0,0,255,0.5)", 22)
curve(green_orbit, A, "green", 12)
curve(green_orbit2, A, "green", 10)
curve(green_arm, A, "green", 6)
for c in (red_loop1, red_loop5, red_loop2, red_loop3, red_loop4, red_loop6):
    curve(c, A, "red", 8)
curve(red_fill, A, "red", 16)
curve(blue_center, A, "blue", 4)
curve(black_a, A, "black", 5.5)
curve(black_b, A, "black", 7)
curve(black_c, A, "black", 5.5)
curve(black_d, A, "black", 8)
curve(black_patch_l, A, "black", 9)
curve(black_patch_l2, A, "black", 7)
curve(black_patch_r, A, "black", 8)

# latent space -----------------------------------------------------------
for c in (latent_outer, latent_mid1, latent_mid2, latent_mid3, latent_down, latent_fan1, latent_fan2, latent_fan3,
          latent_right_outer, latent_right_inner, latent_spiral_r, latent_spiral_l, latent_cross):
    curve(c, B, "black", 5.5, spline=False)
curve(latent_green, B, "green", 8)
curve(latent_green_in, B, "green", 5.5)
curve(latent_red, B, "red", 7, spline=False)
curve(latent_red2, B, "red", 5.5, spline=False)
curve(latent_red_fill, B, "red", 13, spline=False)

# maps -------------------------------------------------------------------
def hbar(left, right, top, ticks, fmt):
    return dict(orientation="h", x=X((left + right) / 2), xanchor="center", y=Y(top), yanchor="top",
                lenmode="pixels", len=right - left, thicknessmode="pixels", thickness=19, xpad=0, ypad=0,
                outlinecolor="black", outlinewidth=3, ticks="outside", ticklen=10, tickwidth=2.5, tickcolor="black",
                tickmode="array", tickvals=ticks, tickformat=fmt, tickfont=dict(family=FONT, size=FS, color="black"))

def scat(x, y, c, ax, cmin, cmax, bar):
    fig.add_trace(go.Scatter(x=x, y=y, mode="markers", showlegend=False, hoverinfo="skip",
                             marker=dict(size=19, color=c, colorscale=JET, cmin=cmin, cmax=cmax, line_width=0, colorbar=bar, showscale=True), **ax))

scat(ce_q, ce_qdot, ce_phi_r, C, -.0722, .0824, hbar(726.5, 1128.9, 529.5, [-.05, 0, .05], ".2f"))
scat(ce_q, ce_qdot, ce_phi_i, E, -.0582, .0802, hbar(1208.5, 1610.2, 529.5, [-.05, 0, .05], ".2f"))
scat(df_q, df_qdot, df_mu, D, -.02735, -.02332, hbar(721, 1122.1, 1161, [-.026, -.024], ".3f"))
scat(df_q, df_qdot, df_omega, F, -.939, -.211, hbar(1202.4, 1603.5, 1161, [-.75, -.5, -.25], ".2f"))

# timeseries -------------------------------------------------------------
def series(rows, ax, cmin, cmax, top, bottom, ticks, fmt):
    t, v, h = zip(*rows)
    bar = dict(orientation="v", x=X(2439.7), xanchor="left", y=Y((top + bottom) / 2), yanchor="middle",
               lenmode="pixels", len=bottom - top, thicknessmode="pixels", thickness=19, xpad=0, ypad=0,
               outlinecolor="black", outlinewidth=3, ticks="outside", ticklen=10, tickwidth=2.5, tickcolor="black",
               tickmode="array", tickvals=ticks, tickformat=fmt, tickfont=dict(family=FONT, size=FS, color="black"))
    fig.add_trace(go.Scatter(x=t, y=v, mode="markers", showlegend=False, hoverinfo="skip",
                             marker=dict(size=29, color=h, colorscale="Viridis", cmin=cmin, cmax=cmax, line_width=0, colorbar=bar, showscale=True), **ax))
    for i in range(len(rows) - 1):
        frac = max(0.0, min(1.0, (h[i + 1] - cmin) / (cmax - cmin)))
        col = sample_colorscale("Viridis", [frac])[0]
        fig.add_trace(go.Scatter(x=t[i:i + 2], y=v[i:i + 2], mode="lines+markers", showlegend=False, hoverinfo="skip",
                                 line=dict(color=col, width=29), marker=dict(size=29, color=col, line_width=0), **ax))

series(pd1, G1, .000119, .00595, 70.7, 434.3, [.002, .004], ".3f")
series(pd2, G2, .0000545, .000424, 466.7, 830, [.0001, .0002, .0003, .0004], ".4f")
series(pd3, G3, .000001, .00069, 862.7, 1226.7, [.0002, .0004, .0006], ".4f")

# text -------------------------------------------------------------------
def note(text, px, py, size=FS, angle=0, anchor="center"):
    fig.add_annotation(text=text, x=X(px), y=Y(py), xref="paper", yref="paper", showarrow=False, textangle=angle,
                       xanchor=anchor, yanchor="middle", borderpad=0, font=dict(family=FONT, size=size, color="black"))

PHI_R = "<i>ϕ</i><sub>ℝ</sub>"
PHI_I = "<i>ϕ</i><sub>𝕀</sub>"
note("a) Phase space", 446, 30, TITLE_FS)
note("b) Latent space", 446, 641, TITLE_FS)
note("c) Map: " + PHI_R, 925, 27, TITLE_FS)
note("e) Map: " + PHI_I, 1409, 27, TITLE_FS)
note("d) Map: <i>μ</i>", 928, 648, TITLE_FS)
note("f) Map: <i>ω</i>", 1409, 648, TITLE_FS)
# title g: its super- and subscripts stack, as in the reference
note("g) Map: <i>ϕ</i>", 1907, 27, 49.5, anchor="right")
note("2", 1924, 15, 30)
note("ℝ", 1922, 50, 25)
note("+", 1966, 27, 49.5)
note("<i>ϕ</i>", 2013, 27, 49.5)
note("2", 2046, 15, 30)
note("𝕀", 2038, 50, 25)
note("(Hamiltonian)", 2075, 27, 49.5, anchor="left")
note("<i>q̇</i>", 117, 349, angle=-90)
note(PHI_I, 26, 912, angle=-90)
note(PHI_R, 446, 1263)
note("Timesteps", 2042, 1326, 41)
note("<i>q</i>", 1513, 1064, angle=-90)
note("PD1", 2358, 133, size=56, angle=-90)
note("PD2", 1729, 532, size=56, angle=-90)
note("PD3", 1717, 1167, size=56, angle=-90)

fig.update_layout(width=W, height=H, autosize=False, margin=dict(l=0, r=0, t=0, b=0, pad=0, autoexpand=False),
                  paper_bgcolor="white", plot_bgcolor="white", showlegend=False, font=dict(family=FONT, size=FS, color="black"))
fig.write_html("out.html", post_script="document.body.style.margin='0';", config={"displayModeBar": False})
